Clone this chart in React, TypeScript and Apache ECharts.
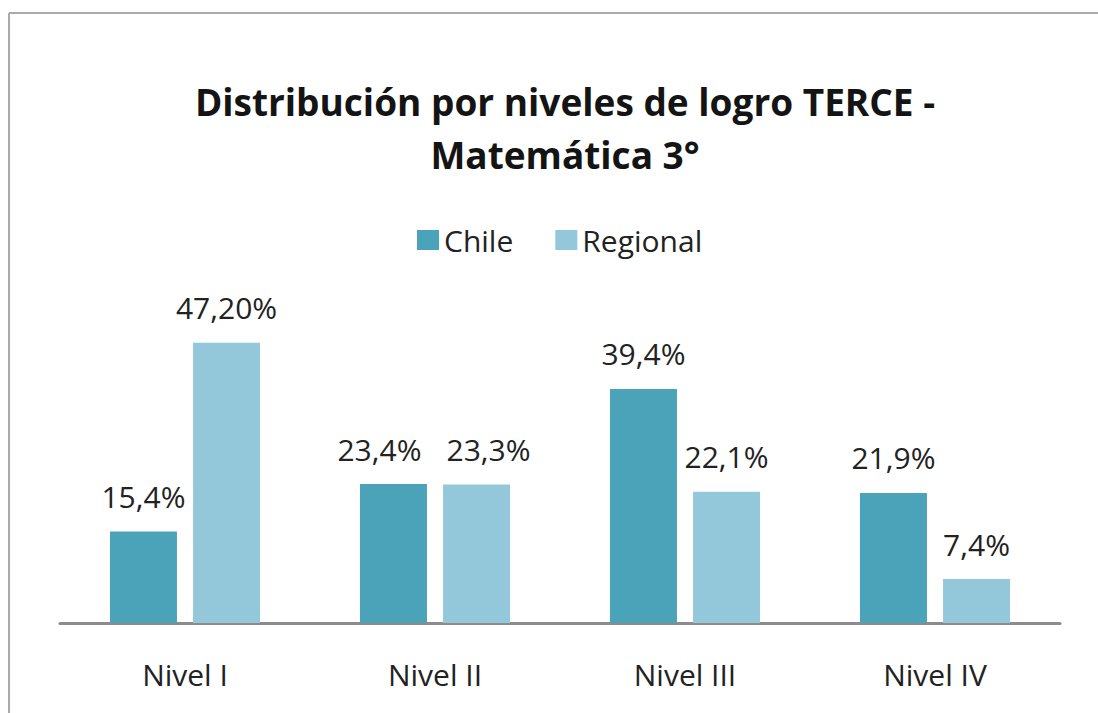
import React, { useEffect, useRef } from "react";
import * as echarts from "echarts";

const categories = ["Nivel I", "Nivel II", "Nivel III", "Nivel IV"];
const chileValues = [15.4, 23.4, 39.4, 21.9];
const regionalValues = [47.2, 23.3, 22.1, 7.4];
const chileLabels = ["15,4%", "23,4%", "39,4%", "21,9%"];
const regionalLabels = ["47,20%", "23,3%", "22,1%", "7,4%"];

const FONT = "'Open Sans', Lato, sans-serif";

export default function App() {
  const ref = useRef<HTMLDivElement>(null);
  useEffect(() => {
    if (!ref.current) return;
    const chart = echarts.init(ref.current, null, { renderer: "svg" });
    const labelStyle = {
      show: true,
      position: "top",
      distance: 20,
      fontSize: 30,
      fontFamily: FONT,
      color: "#222222",
    };
    // nudge the crowded Nivel II labels apart, as in the original
    const chileData = chileValues.map((v, i) =>
      i === 1 ? { value: v, label: { offset: [-14, 0] } } : v
    );
    const regionalData = regionalValues.map((v, i) =>
      i === 1 ? { value: v, label: { offset: [12, 0] } } : v
    );
    chart.setOption({
      animation: false,
      backgroundColor: "#ffffff",
      title: {
        text: "Distribución por niveles de logro TERCE -\nMatemática 3°",
        left: 560,
        textAlign: "center",
        top: 70,
        textStyle: {
          fontSize: 37,
          fontWeight: "bold",
          fontFamily: FONT,
          color: "#141414",
          lineHeight: 53,
        },
      },
      legend: {
        data: ["Chile", "Regional"],
        left: 412,
        top: 220,
        itemWidth: 22,
        itemHeight: 20,
        itemGap: 42,
        icon: "rect",
        textStyle: { fontSize: 30, fontFamily: FONT, color: "#222222" },
      },
      grid: { left: 60, right: 38, top: 326, bottom: 90, containLabel: false },
      xAxis: {
        type: "category",
        data: categories,
        axisTick: { show: false },
        axisLine: { lineStyle: { color: "#8c8c8c", width: 3 } },
        axisLabel: { fontSize: 30, fontFamily: FONT, color: "#222222", margin: 36 },
      },
      yAxis: {
        type: "value",
        min: 0,
        max: 50,
        show: false,
        splitLine: { show: false },
      },
      graphic: [
        {
          type: "line",
          shape: { x1: 9, y1: 13, x2: 9, y2: 713 },
          style: { stroke: "#aaaaaa", lineWidth: 2 },
        },
        {
          type: "line",
          shape: { x1: 9, y1: 13, x2: 1098, y2: 13 },
          style: { stroke: "#aaaaaa", lineWidth: 2 },
        },
      ],
      series: [
        {
          name: "Chile",
          type: "bar",
          data: chileData,
          barWidth: 67,
          barGap: "24%",
          itemStyle: { color: "#4aa3b8" },
          label: { ...labelStyle, formatter: (p: any) => chileLabels[p.dataIndex] },
        },
        {
          name: "Regional",
          type: "bar",
          data: regionalData,
          barWidth: 67,
          itemStyle: { color: "#93c8da" },
          label: { ...labelStyle, formatter: (p: any) => regionalLabels[p.dataIndex] },
        },
      ],
    });
    return () => chart.dispose();
  }, []);
  return (
    <div
      ref={ref}
      style={{ position: "fixed", left: 0, top: 0, width: 1098, height: 713 }}
    />
  );
}
